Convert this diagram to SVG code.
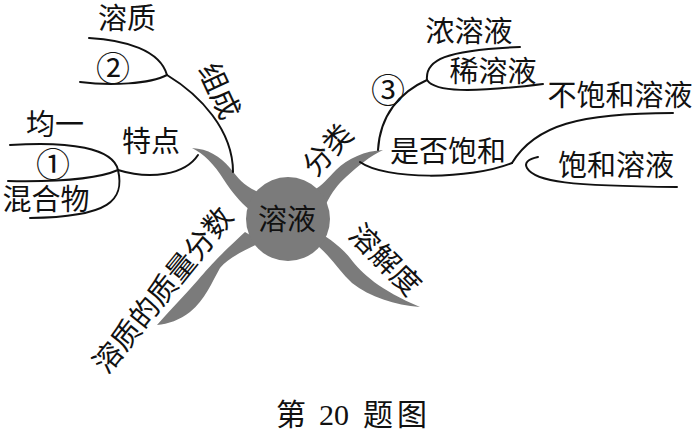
<svg xmlns="http://www.w3.org/2000/svg" width="700" height="432" viewBox="0 0 700 432">
<style>
.t{font-family:"Liberation Serif","Noto Sans CJK SC",serif;font-size:29px;fill:#111;text-anchor:middle;dominant-baseline:central}
.c{font-family:"Noto Sans CJK SC",sans-serif;font-size:34px}
.ln{fill:none;stroke:#111;stroke-width:2;stroke-linecap:round}
.br{fill:#7b7b7b}
</style>
<rect width="700" height="432" fill="#fff"/>
<g id="branches">
<path class="br" d="M192,148 C208,149 220,156 230,168 C238,178 244,186 258,192 L250,210 C240,202 232,192 224,180 C214,164 204,154 192,148 Z"/>
<path class="br" d="M383,150 C365,151 348,158 336,170 C328,178 322,186 314,190 L326,204 C332,192 338,184 346,177 C358,166 370,156 383,150 Z"/>
<path class="br" d="M157,325 C170,310 185,295 198,280 C210,266 220,255 245,232 L262,242 C245,250 228,258 220,268 C212,282 205,300 190,312 C180,320 168,324 157,325 Z"/>
<path class="br" d="M312,228 C325,236 340,245 350,258 C362,274 380,290 420,307 C395,305 370,297 352,283 C340,272 332,258 318,246 Z"/>
</g>
<g id="connectors">
<path class="ln" d="M89,38 C125,40 160,50 167,75"/>
<path class="ln" d="M80,82 C110,86 150,84 167,75"/>
<path class="ln" d="M167,75 C200,95 233,130 233,172"/>
<path class="ln" d="M10,145 C70,141 113,148 118,170"/>
<path class="ln" d="M8,181 C60,182 100,178 118,170"/>
<path class="ln" d="M118,170 C125,200 110,217 30,218"/>
<path class="ln" d="M118,170 C150,180 185,175 198,155"/>
<path class="ln" d="M427,80 C400,92 380,115 378,150"/>
<path class="ln" d="M427,80 C425,60 445,50 520,47"/>
<path class="ln" d="M427,80 C435,92 470,93 543,84"/>
<path class="ln" d="M360,162 C385,180 470,180 512,163"/>
<path class="ln" d="M512,163 C535,125 580,113 673,113"/>
<path class="ln" d="M538,157 C528,159 524,163 527,168 C535,182 570,186 677,187"/>
</g>
<g id="center"><circle cx="288" cy="219" r="42" fill="#7b7b7b"/><text class="t" x="287" y="220">溶液</text></g>
<g id="n-rongzhi"><text class="t" x="127" y="19">溶质</text></g>
<g id="n-2"><text class="t c" x="113" y="66">②</text></g>
<g id="n-junyi"><text class="t" x="55" y="125">均一</text></g>
<g id="n-1"><text class="t c" x="53" y="162">①</text></g>
<g id="n-hunhewu"><text class="t" x="46" y="200">混合物</text></g>
<g id="n-tedian"><text class="t" x="151" y="142">特点</text></g>
<g id="n-zucheng"><text class="t" transform="translate(219,91) rotate(65)">组成</text></g>
<g id="n-fenlei"><text class="t" transform="translate(328,150) rotate(-47)">分类</text></g>
<g id="n-3"><text class="t c" x="388" y="88">③</text></g>
<g id="n-nong"><text class="t" x="469" y="32">浓溶液</text></g>
<g id="n-xi"><text class="t" x="493" y="72">稀溶液</text></g>
<g id="n-shifou"><text class="t" x="448" y="152">是否饱和</text></g>
<g id="n-bubaohe"><text class="t" x="620" y="96">不饱和溶液</text></g>
<g id="n-baohe"><text class="t" x="616" y="166">饱和溶液</text></g>
<g id="n-rongjiedu"><text class="t" transform="translate(385,260) rotate(45)">溶解度</text></g>
<g id="n-fenshu"><text class="t" transform="translate(163,290) rotate(-51)">溶质的质量分数</text></g>
<g id="caption"><text class="t" y="414" style="font-size:30px"><tspan x="291">第</tspan><tspan x="334">20</tspan><tspan x="378">题</tspan><tspan x="412">图</tspan></text></g>
</svg>
